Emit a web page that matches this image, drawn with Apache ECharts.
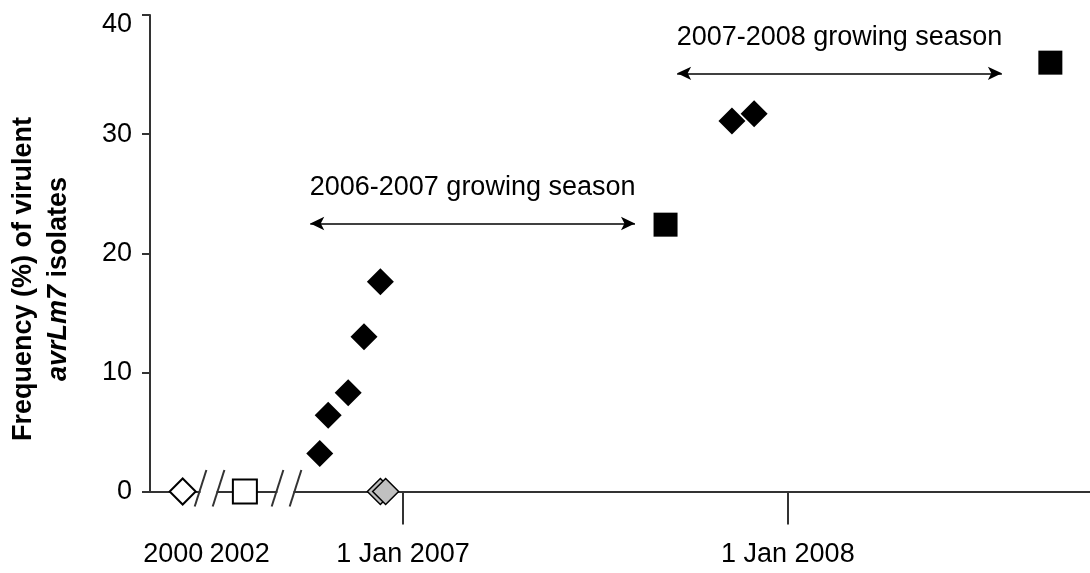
<!DOCTYPE html>
<html>
<head>
<meta charset="utf-8">
<script src="https://cdn.jsdelivr.net/npm/echarts@6/dist/echarts.min.js"></script>
<style>
  html, body { margin: 0; padding: 0; background: #fff; }
  #chart { width: 1090px; height: 573px; }
</style>
</head>
<body>
<div id="chart"></div>
<script>
// x positions are days relative to 1 Jan 2007; the 2000 and 2002 samples sit on a broken axis
const xTickDays = [-218, -155, 0, 365];
const xTickLabels = ['2000', '2002', '1 Jan 2007', '1 Jan 2008'];
const xMajorTickDays = [0, 365];
const axisBreakDays = [-184.5, -111.5];

const yTicks = [0, 10, 20, 30, 40];

// Frequency (%) of isolates virulent towards Rlm7
const sample2000 = [[-209, 0]];
const sample2002 = [[-150, 0]];
const season1Days = [-79, -71, -52, -37, -21.5];
const season1Freq = [3.2, 6.4, 8.3, 13.0, 17.6];
const season1ZeroDays = [-21.5, -16.5];
const season1ZeroFreq = [0, 0];
const season2Days = [312, 333];
const season2Freq = [31.1, 31.7];
const squareDays = [249, 614];
const squareFreq = [22.4, 36.0];

// growing-season spans
const seasonLabels = ['2006-2007 growing season', '2007-2008 growing season'];
const seasonStart = [-88, 260];
const seasonEnd = [220, 568];
const seasonLevel = [22.5, 35.1];

const FONT = "'Liberation Sans', Arial, sans-serif";
const INK = '#000';
const AXIS = '#333';

const zip = (xs, ys) => xs.map((x, i) => [x, ys[i]]);

const chart = echarts.init(document.getElementById('chart'), null, { renderer: 'canvas' });

const option = {
  backgroundColor: '#fff',
  animation: false,
  grid: { left: 150, right: 0, top: 15, bottom: 81.5, containLabel: false },
  xAxis: {
    type: 'value',
    min: -240,
    max: 651.6,
    splitLine: { show: false },
    axisLine: { show: true, onZero: false, lineStyle: { color: AXIS, width: 2 } },
    axisTick: { show: true, customValues: xMajorTickDays, length: 33, lineStyle: { color: AXIS, width: 2 } },
    axisLabel: {
      show: true,
      customValues: xTickDays,
      margin: 50,
      fontSize: 27,
      fontFamily: FONT,
      color: INK,
      formatter: v => {
        const i = xTickDays.indexOf(v);
        return i >= 0 ? xTickLabels[i] : '';
      }
    }
  },
  yAxis: {
    type: 'value',
    min: 0,
    max: 40,
    interval: 10,
    splitLine: { show: false },
    axisLine: { show: true, onZero: false, lineStyle: { color: AXIS, width: 2 } },
    axisTick: { show: true, length: 8, lineStyle: { color: AXIS, width: 2 } },
    axisLabel: {
      margin: 18,
      fontSize: 27,
      fontFamily: FONT,
      color: INK,
      formatter: v => (v === yTicks[yTicks.length - 1] ? '{top|' + v + '}' : String(v)),
      rich: { top: { fontSize: 27, fontFamily: FONT, color: INK, padding: [20, 0, 0, 0] } }
    }
  },
  series: [
    {
      name: '2000',
      type: 'scatter',
      data: sample2000,
      symbol: 'diamond',
      symbolSize: 26,
      itemStyle: { color: '#fff', borderColor: '#000', borderWidth: 2, opacity: 1 },
      z: 5
    },
    {
      name: '2002',
      type: 'scatter',
      data: sample2002,
      symbol: 'rect',
      symbolSize: 24,
      itemStyle: { color: '#fff', borderColor: '#000', borderWidth: 2, opacity: 1 },
      z: 5
    },
    {
      name: '2006-2007 zero',
      type: 'scatter',
      data: zip(season1ZeroDays, season1ZeroFreq),
      symbol: 'diamond',
      symbolSize: 26,
      itemStyle: { color: '#c0c0c0', borderColor: '#000', borderWidth: 1.5, opacity: 1 },
      z: 5
    },
    {
      name: '2006-2007',
      type: 'scatter',
      data: zip(season1Days, season1Freq),
      symbol: 'diamond',
      symbolSize: 27,
      itemStyle: { color: '#000', opacity: 1 },
      z: 5
    },
    {
      name: '2007-2008',
      type: 'scatter',
      data: zip(season2Days, season2Freq),
      symbol: 'diamond',
      symbolSize: 27,
      itemStyle: { color: '#000', opacity: 1 },
      z: 5
    },
    {
      name: 'end of season',
      type: 'scatter',
      data: zip(squareDays, squareFreq),
      symbol: 'rect',
      symbolSize: 24,
      itemStyle: { color: '#000', opacity: 1 },
      z: 5,
      markLine: {
        silent: true,
        symbol: ['arrow', 'arrow'],
        symbolSize: [10, 14],
        lineStyle: { color: '#000', width: 1.5, type: 'solid', opacity: 1 },
        label: {
          show: true,
          position: 'middle',
          distance: 22,
          fontSize: 27,
          fontFamily: FONT,
          color: INK
        },
        data: seasonLabels.map((name, i) => [
          { coord: [seasonStart[i], seasonLevel[i]], name: name },
          { coord: [seasonEnd[i], seasonLevel[i]] }
        ])
      }
    }
  ]
};

chart.setOption(option);

// axis-break marks and the rotated y-axis title
function decorations() {
  const els = [];
  axisBreakDays.forEach(d => {
    const [cx, cy] = chart.convertToPixel({ gridIndex: 0 }, [d, 0]);
    els.push({
      type: 'rect',
      shape: { x: cx - 8, y: cy - 3, width: 16, height: 6 },
      style: { fill: '#fff' },
      z: 3
    });
    [-9, 9].forEach(off => {
      const k = 0.32;
      els.push({
        type: 'line',
        shape: { x1: cx + off - k * 15, y1: cy + 15, x2: cx + off + k * 21.5, y2: cy - 21.5 },
        style: { stroke: AXIS, lineWidth: 2 },
        z: 4
      });
    });
  });
  els.push({
    type: 'text',
    x: 41,
    y: 279,
    rotation: Math.PI / 2,
    style: {
      text: '{b|Frequency (%) of virulent}\n{i|avrLm7}{b| isolates}',
      align: 'center',
      verticalAlign: 'middle',
      lineHeight: 35,
      rich: {
        b: { fontSize: 27, fontWeight: 'bold', fontFamily: FONT, fill: INK, lineHeight: 35 },
        i: { fontSize: 27, fontWeight: 'bold', fontStyle: 'italic', fontFamily: FONT, fill: INK, lineHeight: 35 }
      }
    },
    z: 10
  });
  chart.setOption({ graphic: { elements: els } });
}
decorations();
</script>
</body>
</html>
